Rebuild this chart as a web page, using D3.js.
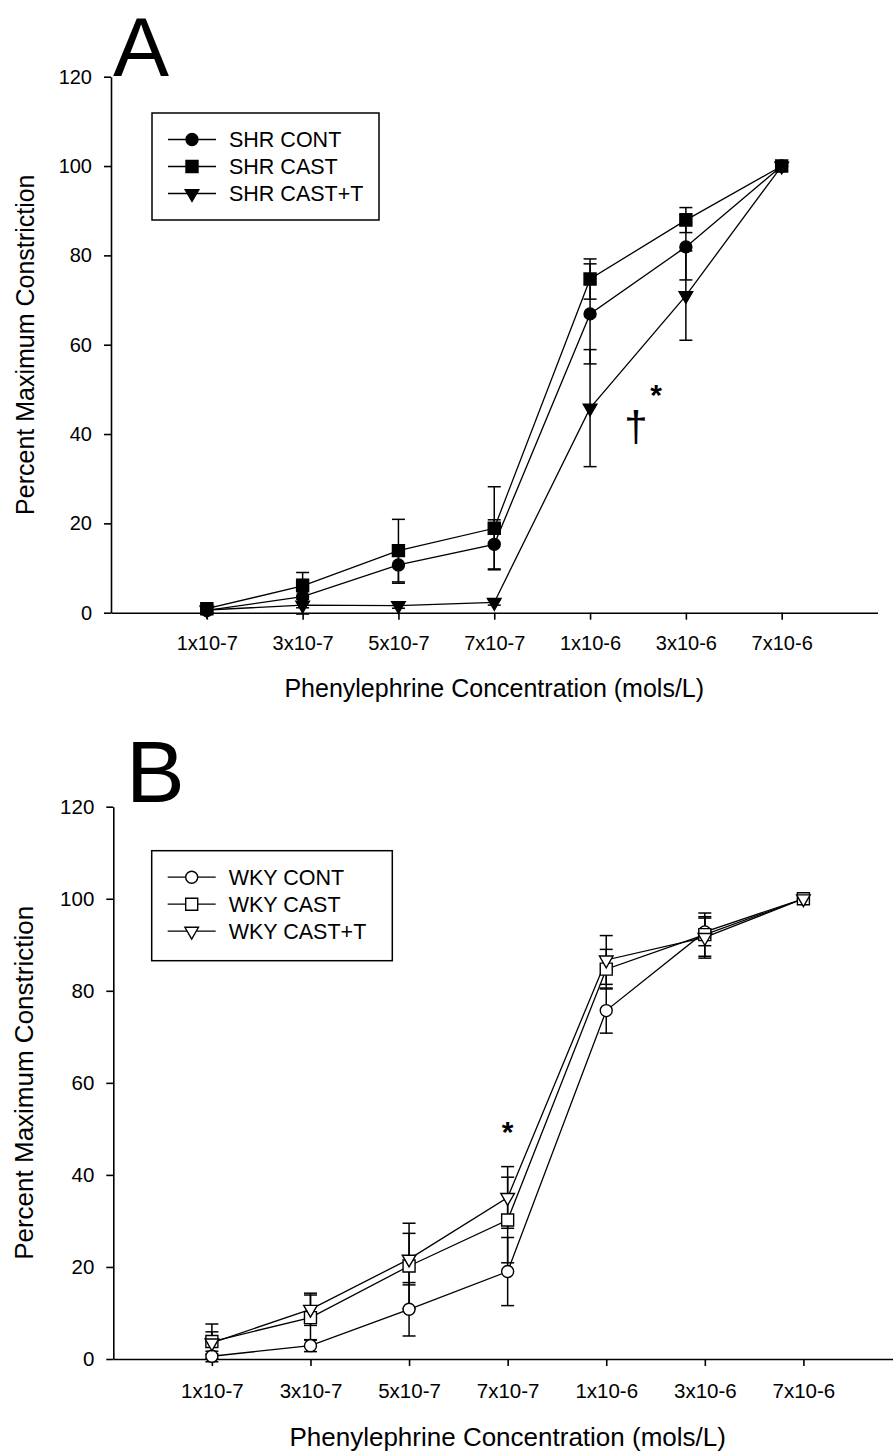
<!DOCTYPE html>
<html>
<head>
<meta charset="utf-8">
<script src="https://cdn.jsdelivr.net/npm/d3@7"></script>
<style>
  body { margin: 0; background: #fff; }
  svg { display: block; }
</style>
</head>
<body>
<svg id="chart" width="893" height="1451"></svg>
<script>
// Categories along the x axis
const concentrations = ["1x10-7", "3x10-7", "5x10-7", "7x10-7", "1x10-6", "3x10-6", "7x10-6"];
const yTickValues = [0, 20, 40, 60, 80, 100, 120];

// Panel A, SHR groups (mean, SEM)
const shrCont = [0.5, 3.6, 10.7, 15.3, 66.9, 81.9, 100];
const shrContErr = [0.8, 3.9, 4.1, 5.5, 11.2, 7.4, 0];
const shrCast = [0.9, 6.0, 13.9, 18.9, 74.7, 87.9, 100];
const shrCastErr = [1.0, 3.0, 7.0, 9.3, 4.5, 2.8, 0];
const shrCastT = [0.6, 1.7, 1.6, 2.3, 45.8, 71.0, 100];
const shrCastTErr = [0.6, 0.6, 0.6, 0.6, 13.1, 10.0, 0];

// Panel B, WKY groups (mean, SEM)
const wkyCont = [0.6, 2.9, 10.8, 19.0, 75.7, 92.8, 100];
const wkyContErr = [0.5, 1.3, 5.8, 7.4, 4.9, 3.0, 0];
const wkyCast = [3.8, 9.0, 20.2, 30.2, 84.7, 92.2, 100];
const wkyCastErr = [2.1, 4.9, 9.3, 9.3, 4.3, 4.7, 0];
const wkyCastT = [3.5, 10.8, 21.7, 35.1, 86.7, 91.6, 100];
const wkyCastTErr = [4.1, 3.5, 5.6, 6.7, 5.3, 4.5, 0];

const FONT = "Arial, 'Liberation Sans', sans-serif";
const svg = d3.select("#chart");
svg.append("rect").attr("width", 893).attr("height", 1451).attr("fill", "#fff");

function markerPath(shape, size) {
    const type = shape === "circle" ? d3.symbolCircle
        : shape === "square" ? d3.symbolSquare : d3.symbolTriangle;
    return d3.symbol().type(type).size(size)();
}

const markerSize = { circle: 113, square: 144, triangle: 80 };

function drawPanel(p) {
    const xScale = d3.scaleLinear().domain([0, concentrations.length + 1]).range(p.xRange);
    const yScale = d3.scaleLinear().domain([0, 120]).range(p.yRange);
    const g = svg.append("g");

    // panel letter
    g.append("text")
        .attr("x", p.letterX).attr("y", p.letterY)
        .attr("fill", "#000")
        .style("font-family", FONT).style("font-size", p.letterSize + "px")
        .text(p.letter);

    // axes
    const xAxis = d3.axisBottom(xScale)
        .tickValues(concentrations.map((c, i) => i + 1))
        .tickFormat(d => concentrations[d - 1])
        .tickSize(7).tickSizeOuter(0).tickPadding(p.xPad);
    const xg = g.append("g")
        .attr("transform", "translate(0," + p.yRange[0] + ")")
        .call(xAxis);

    const yAxis = d3.axisLeft(yScale)
        .tickValues(yTickValues)
        .tickSize(7).tickSizeOuter(0).tickPadding(12);
    const yg = g.append("g")
        .attr("transform", "translate(" + p.xRange[0] + ",0)")
        .call(yAxis);

    [xg, yg].forEach(a => {
        a.select(".domain").attr("stroke", "#000").attr("stroke-width", 1.6);
        a.selectAll(".tick line").attr("stroke", "#000").attr("stroke-width", 1.6);
        a.selectAll("text").attr("fill", "#000")
            .style("font-family", FONT).style("font-size", p.tickFont + "px");
    });

    // axis titles
    g.append("text")
        .attr("x", (p.xRange[0] + p.xRange[1]) / 2).attr("y", p.xTitleY)
        .attr("text-anchor", "middle").attr("dy", "0.36em")
        .style("font-family", FONT).style("font-size", p.titleFont + "px")
        .text("Phenylephrine Concentration (mols/L)");

    g.append("text")
        .attr("text-anchor", "middle").attr("dy", "0.36em")
        .attr("transform", "translate(" + p.yTitleX + "," + ((p.yRange[0] + p.yRange[1]) / 2) + ")rotate(-90)")
        .style("font-family", FONT).style("font-size", p.titleFont + "px")
        .text("Percent Maximum Constriction");

    const line = d3.line()
        .x((d, i) => xScale(i + 1))
        .y(d => yScale(d));

    // error bars
    p.series.forEach(s => {
        const eg = g.append("g").attr("stroke", "#000").attr("stroke-width", 1.5);
        s.values.forEach((v, i) => {
            const e = s.errors[i];
            if (!e) return;
            const cx = xScale(i + 1);
            eg.append("line").attr("x1", cx).attr("x2", cx)
                .attr("y1", yScale(v - e)).attr("y2", yScale(v + e));
            [v - e, v + e].forEach(ev => {
                eg.append("line").attr("x1", cx - 6.5).attr("x2", cx + 6.5)
                    .attr("y1", yScale(ev)).attr("y2", yScale(ev));
            });
        });
    });

    // lines
    p.series.forEach(s => {
        g.append("path")
            .datum(s.values)
            .attr("d", line)
            .attr("fill", "none").attr("stroke", "#000").attr("stroke-width", 1.3);
    });

    // markers
    p.series.forEach(s => {
        g.append("g").selectAll("path")
            .data(s.values)
            .enter()
            .append("path")
            .attr("d", markerPath(s.shape, markerSize[s.shape]))
            .attr("transform", (d, i) => "translate(" + xScale(i + 1) + "," + yScale(d) + ")" +
                (s.shape === "triangle" ? "rotate(180)" : ""))
            .attr("fill", p.filled ? "#000" : "#fff")
            .attr("stroke", "#000").attr("stroke-width", 1.4);
    });

    // legend
    const lg = g.append("g");
    lg.append("rect")
        .attr("x", p.legend.x).attr("y", p.legend.y)
        .attr("width", p.legend.w).attr("height", p.legend.h)
        .attr("fill", "#fff").attr("stroke", "#000").attr("stroke-width", 1.5);
    p.series.forEach((s, i) => {
        const ly = p.legend.y + 26.5 + i * 27;
        const lx = p.legend.x + 16;
        lg.append("line").attr("x1", lx).attr("x2", lx + 48)
            .attr("y1", ly).attr("y2", ly)
            .attr("stroke", "#000").attr("stroke-width", 1.3);
        lg.append("path")
            .attr("d", markerPath(s.shape, markerSize[s.shape]))
            .attr("transform", "translate(" + (lx + 24) + "," + ly + ")" +
                (s.shape === "triangle" ? "rotate(180)" : ""))
            .attr("fill", p.filled ? "#000" : "#fff")
            .attr("stroke", "#000").attr("stroke-width", 1.4);
        lg.append("text")
            .attr("x", lx + 61).attr("y", ly).attr("dy", "0.36em")
            .style("font-family", FONT).style("font-size", "21.5px")
            .text(s.name);
    });

    // significance marks
    p.marks.forEach(m => {
        g.append("text")
            .attr("x", xScale(m.x)).attr("y", yScale(m.y))
            .attr("text-anchor", "middle")
            .attr("fill", "#000")
            .style("font-family", FONT).style("font-size", m.size + "px")
            .style("font-weight", m.bold ? "bold" : "normal")
            .text(m.text);
    });
}

drawPanel({
    letter: "A", letterX: 113, letterY: 76, letterSize: 84,
    xRange: [111, 877.5], yRange: [612.7, 76.7],
    xPad: 16.6, tickFont: 20, titleFont: 25,
    xTitleY: 688, yTitleX: 25,
    filled: true,
    legend: { x: 152, y: 113, w: 227, h: 107 },
    series: [
        { name: "SHR CONT", shape: "circle", values: shrCont, errors: shrContErr },
        { name: "SHR CAST", shape: "square", values: shrCast, errors: shrCastErr },
        { name: "SHR CAST+T", shape: "triangle", values: shrCastT, errors: shrCastTErr }
    ],
    marks: [
        { text: "*", x: 5.69, y: 46.6, size: 30, bold: true },
        { text: "\u2020", x: 5.48, y: 38.5, size: 42, bold: false }
    ]
});

drawPanel({
    letter: "B", letterX: 126, letterY: 802, letterSize: 88,
    xRange: [113.3, 902], yRange: [1359, 806.7],
    xPad: 17.5, tickFont: 20.5, titleFont: 26,
    xTitleY: 1436.7, yTitleX: 24,
    filled: false,
    legend: { x: 151.7, y: 850.7, w: 240.6, h: 110 },
    series: [
        { name: "WKY CONT", shape: "circle", values: wkyCont, errors: wkyContErr },
        { name: "WKY CAST", shape: "square", values: wkyCast, errors: wkyCastErr },
        { name: "WKY CAST+T", shape: "triangle", values: wkyCastT, errors: wkyCastTErr }
    ],
    marks: [
        { text: "*", x: 4.0, y: 47.1, size: 30, bold: true }
    ]
});
</script>
</body>
</html>
